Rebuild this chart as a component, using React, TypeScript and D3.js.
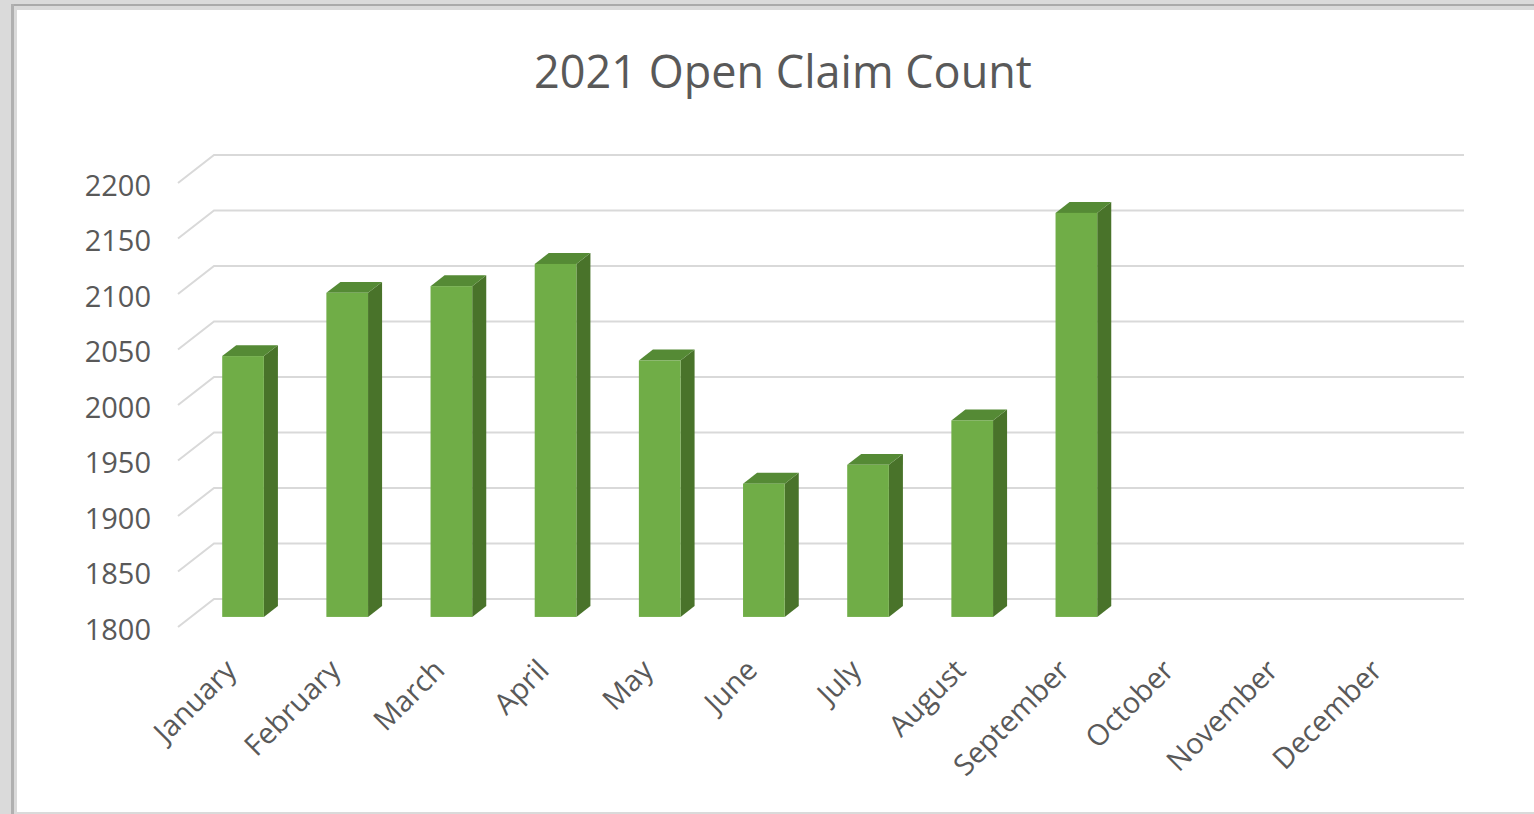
import React from 'react';
import * as d3 from 'd3';

const months = [
  'January', 'February', 'March', 'April', 'May', 'June',
  'July', 'August', 'September', 'October', 'November', 'December',
];
// only Jan..Sep have values
const openClaims = [2035, 2092, 2098, 2118, 2031, 1920, 1937, 1977, 2164];
const yTickValues = [1800, 1850, 1900, 1950, 2000, 2050, 2100, 2150, 2200];

const W = 1534;
const H = 814;
const font = '"Open Sans", "Noto Sans", sans-serif';
const textColor = '#595959';

// 3d look: back wall is shifted right/up from the front plane
const depthX = 36;
const depthY = -28;
const barFront = 0.36;
const barBack = 0.75;

const App = () => {
  const x = d3.scaleBand<string>()
    .domain(months)
    .range([178, 1428])
    .paddingInner(0.6)
    .paddingOuter(0.3);

  const y = d3.scaleLinear()
    .domain([1800, 2200])
    .range([627, 183]);

  const fx = depthX * barFront, fy = depthY * barFront;
  const bx = depthX * barBack, by = depthY * barBack;
  const bw = x.bandwidth();

  return (
    <svg width={W} height={H} style={{ position: 'absolute', left: 0, top: 0 }}>
      {/* frame / shadow */}
      <rect x={0} y={0} width={W} height={H} fill="#dadada" />
      <rect x={11} y={4} width={W} height={2} fill="#aaaaaa" />
      <rect x={11} y={4} width={3} height={H} fill="#b0b0b0" />
      <rect x={17} y={10} width={W - 17} height={802} fill="#ffffff" />

      <text x={783} y={88} textAnchor="middle" fontFamily={font} fontSize={45} fill={textColor}>
        2021 Open Claim Count
      </text>

      {/* gridlines */}
      <g fill="none" stroke="#d9d9d9" strokeWidth={2}>
        {yTickValues.map(t => (
          <path
            key={t}
            d={`M${x.range()[0]},${y(t)}L${x.range()[0] + depthX},${y(t) + depthY}L${x.range()[1] + depthX},${y(t) + depthY}`}
          />
        ))}
      </g>

      {/* y labels */}
      <g fontFamily={font} fontSize={29} fill={textColor} textAnchor="end">
        {yTickValues.map(t => (
          <text key={t} x={151} y={y(t) + 1} dominantBaseline="central">{t}</text>
        ))}
      </g>

      {/* bars */}
      {openClaims.map((v, i) => {
        const x0 = x(months[i])!;
        const x1 = x0 + bw;
        const top = y(v);
        const bottom = y(1800);
        return (
          <g key={months[i]}>
            <polygon
              points={`${x1 + fx},${top + fy} ${x1 + bx},${top + by} ${x1 + bx},${bottom + by} ${x1 + fx},${bottom + fy}`}
              fill="#49732a"
            />
            <polygon
              points={`${x0 + fx},${top + fy} ${x0 + bx},${top + by} ${x1 + bx},${top + by} ${x1 + fx},${top + fy}`}
              fill="#558a35"
            />
            <rect x={x0 + fx} y={top + fy} width={bw} height={bottom - top} fill="#70ad47" />
          </g>
        );
      })}

      {/* x labels */}
      <g fontFamily={font} fontSize={29} fill={textColor} textAnchor="end">
        {months.map(m => {
          const cx = x(m)! + bw / 2;
          return (
            <text key={m} transform={`translate(${cx + 8},${y(1800) + 45}) rotate(-45)`}>{m}</text>
          );
        })}
      </g>
    </svg>
  );
};

export default App;
